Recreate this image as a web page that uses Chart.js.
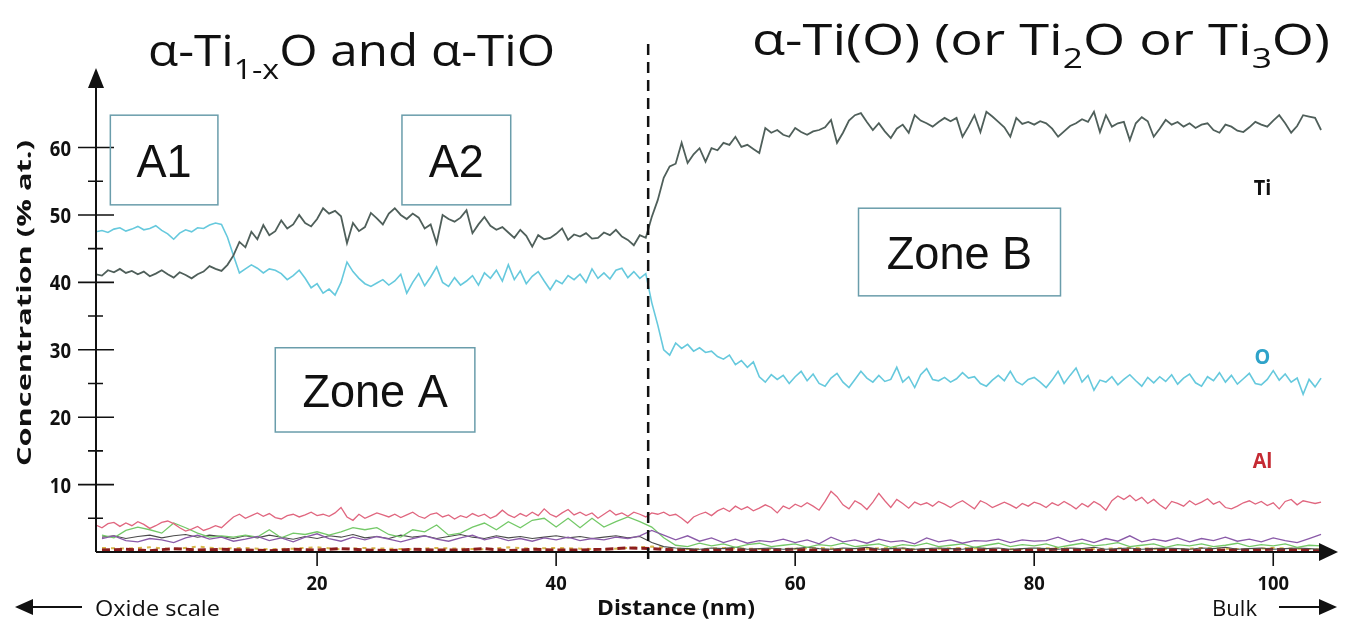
<!DOCTYPE html>
<html>
<head>
<meta charset="utf-8">
<script src="https://cdn.jsdelivr.net/npm/chart.js@4.4.1/dist/chart.umd.min.js"></script>
<style>
  html, body { margin: 0; padding: 0; background: #fff; }
  canvas { display: block; }
</style>
</head>
<body>
<canvas id="depth-profile" width="1348" height="629"></canvas>
<script>
// ── Data (% at. vs distance in nm) ───────────────────────────────────

// fine series: 1.5 → 104 nm every 0.5 nm
const FINE_START = 1.5, FINE_STEP = 0.5;
// minor series: 2 → 104 nm every 1 nm
const COARSE_START = 2, COARSE_STEP = 1;
// baseline traces: 2 → 104 nm every 2 nm
const BASE_START = 2, BASE_STEP = 2;

const tiValues = [
  41.2, 41.0, 41.8, 41.5, 42.0, 41.4, 41.7, 41.2, 41.6, 40.9,
  41.3, 41.8, 41.2, 40.7, 41.5, 41.1, 40.6, 41.2, 41.6, 42.4,
  42.0, 41.7, 42.6, 44.0, 46.0, 45.2, 47.5, 46.4, 48.5, 47.0,
  47.6, 49.2, 48.0, 48.6, 50.0, 48.8, 48.3, 49.4, 51.0, 50.2,
  50.6, 49.8, 45.8, 48.8, 47.6, 48.2, 50.3, 49.5, 48.6, 50.2,
  51.0, 50.0, 49.4, 50.2, 49.6, 48.0, 48.6, 45.8, 50.0, 49.4,
  49.0, 49.6, 50.7, 47.3, 48.6, 49.7, 48.4, 47.8, 48.2, 47.4,
  46.6, 47.8, 46.9, 45.3, 47.0, 46.4, 46.6, 47.2, 48.0, 46.3,
  47.1, 46.8, 47.3, 46.5, 46.6, 47.4, 47.0, 47.8, 46.8, 46.3,
  45.5, 47.0, 46.6, 49.7, 52.2, 55.5, 57.2, 57.6, 60.7, 57.7,
  59.0, 59.9, 57.9, 59.9, 59.6, 60.7, 60.4, 61.6, 60.1, 60.4,
  59.8, 59.2, 62.9, 62.2, 62.6, 61.9, 61.6, 62.9, 62.3, 61.9,
  62.4, 62.6, 63.0, 64.1, 60.7, 62.2, 64.0, 64.8, 65.1, 63.8,
  62.6, 63.6, 62.4, 61.4, 62.8, 63.4, 62.2, 64.8, 64.0, 63.6,
  63.1, 63.8, 64.4, 63.9, 64.4, 61.6, 63.1, 64.8, 62.3, 65.3,
  64.6, 63.8, 63.0, 61.6, 64.4, 63.5, 63.8, 63.4, 63.9, 63.6,
  62.8, 61.6, 62.4, 63.2, 63.6, 64.2, 63.8, 65.3, 62.3, 64.8,
  63.1, 63.6, 63.8, 61.1, 63.6, 64.5, 63.9, 61.6, 62.8, 64.1,
  63.4, 63.8, 63.1, 63.6, 62.9, 63.4, 63.6, 62.6, 62.2, 63.4,
  63.1, 62.5, 62.3, 63.0, 63.8, 63.4, 63.1, 64.0, 64.8, 63.6,
  62.2, 63.2, 64.8, 64.6, 64.4, 62.6,
];

const oValues = [
  47.5, 47.7, 47.4, 47.9, 48.1, 47.6, 47.9, 48.3, 47.8, 48.0,
  48.4, 47.7, 47.2, 46.4, 47.3, 47.8, 47.5, 48.1, 48.0, 48.5,
  48.8, 48.6, 46.7, 44.0, 41.4, 42.0, 42.6, 42.1, 41.4, 42.0,
  41.8, 41.3, 40.4, 41.0, 41.8, 40.6, 39.2, 39.8, 38.4, 39.0,
  38.1, 40.0, 43.0, 41.6, 40.6, 39.8, 39.4, 39.9, 40.4, 39.6,
  40.2, 41.2, 38.4, 40.0, 41.3, 39.5, 40.8, 42.3, 40.0, 39.4,
  40.7, 39.6, 40.2, 41.0, 39.6, 41.4, 40.6, 41.8, 40.2, 42.6,
  40.4, 41.7, 39.8, 40.9, 41.6, 40.2, 38.9, 40.3, 39.8, 41.0,
  40.4, 41.2, 40.0, 42.0, 40.6, 41.4, 40.5, 41.8, 42.1, 40.7,
  41.6, 40.6, 41.3, 37.0, 33.7, 30.0, 29.2, 31.0, 30.2, 30.8,
  29.8, 30.3, 29.6, 29.8, 29.0, 28.6, 29.2, 27.8, 28.4, 27.4,
  28.2, 26.0, 25.2, 26.3, 25.6, 26.2, 25.0, 26.0, 26.8, 25.4,
  26.4, 25.0, 24.6, 25.8, 26.5, 25.2, 24.4, 25.6, 26.8, 25.8,
  25.2, 26.2, 25.3, 25.6, 27.4, 25.2, 26.0, 24.4, 26.3, 27.2,
  25.6, 25.4, 25.9, 25.2, 25.7, 26.6, 25.8, 26.0, 25.0, 24.6,
  25.5, 26.2, 25.4, 26.8, 25.3, 24.8, 25.6, 25.9, 25.2, 24.4,
  25.5, 26.8, 25.0, 26.2, 27.3, 25.2, 26.2, 24.0, 25.5, 25.2,
  26.0, 24.8, 25.6, 26.3, 25.4, 24.6, 25.9, 25.1, 26.0, 25.3,
  26.3, 24.9, 25.8, 26.4, 25.1, 24.6, 26.0, 25.4, 26.6, 25.2,
  26.2, 24.9, 25.7, 26.5, 25.0, 24.8, 25.6, 26.9, 25.5, 26.4,
  25.2, 25.8, 23.4, 25.6, 24.5, 25.8,
];

const alValues = [
  4.0, 3.6, 4.2, 4.4, 3.8, 4.3, 3.9, 4.5, 4.1, 3.5,
  3.9, 4.4, 4.6, 4.2, 3.6, 3.1, 3.4, 3.8, 3.2, 3.5,
  3.9, 3.6, 4.4, 5.2, 5.6, 5.0, 5.4, 5.8, 5.3, 5.7,
  5.1, 4.9, 5.4, 5.6, 5.2, 5.5, 5.9, 5.4, 5.6, 5.3,
  5.8, 6.6, 5.2, 4.7, 5.6, 5.0, 5.4, 5.8, 5.5, 5.2,
  5.6, 5.1, 5.5, 5.9, 5.3, 5.0, 5.6, 5.8, 5.2, 5.5,
  4.9, 5.4, 5.1, 5.7, 5.3, 5.6, 5.0, 5.4, 6.2, 5.5,
  5.1, 5.7, 5.3, 5.9, 5.4, 6.4, 5.6, 5.2, 5.8, 6.3,
  5.5, 5.9, 5.4, 5.8, 5.0, 5.6, 6.2, 5.5, 5.8, 5.3,
  5.9, 5.6, 5.2, 5.8, 5.6, 5.9, 5.4, 5.6, 5.0, 4.3,
  5.2, 5.6, 5.9, 5.4, 6.1, 6.5, 6.0, 6.8, 6.3, 6.7,
  6.1, 6.5, 7.0, 6.6, 5.8, 6.8, 6.4, 7.1, 6.7, 7.3,
  6.8, 6.2, 7.5, 9.0, 8.2, 7.0, 6.4, 7.6, 7.1, 6.3,
  7.4, 8.7, 7.6, 6.6, 7.8, 7.2, 6.5, 7.4, 7.0, 7.3,
  6.8, 7.5, 7.1, 6.6, 7.2, 7.6, 7.0, 6.4, 7.6, 7.2,
  6.6, 7.0, 7.4, 7.0, 6.5, 7.2, 6.8, 7.4, 7.1, 6.6,
  7.3, 6.9, 7.5, 7.0, 6.4, 7.2, 6.7, 7.5, 7.0, 6.2,
  7.6, 8.3, 7.8, 8.4, 7.6, 8.1, 7.2, 7.8, 7.0, 6.4,
  7.5, 7.2, 6.8, 7.6, 7.0, 7.4, 7.9, 7.1, 7.5, 6.6,
  6.4, 6.8, 7.3, 7.6, 7.1, 7.5, 6.9, 7.3, 6.4, 7.5,
  7.8, 7.0, 7.6, 7.4, 7.2, 7.4,
];

const greenValues = [
  2.5, 2.1, 3.2, 3.7, 3.3, 2.8, 4.3, 3.6, 2.8, 2.2,
  2.4, 2.2, 2.5, 2.2, 3.3, 2.1, 2.8, 2.6, 3.0, 2.5,
  3.0, 3.6, 3.3, 3.6, 2.6, 2.2, 3.3, 3.0, 4.0, 2.5,
  2.8, 3.7, 4.3, 3.3, 4.5, 3.6, 4.7, 5.0, 3.7, 5.0,
  3.6, 5.0, 3.7, 4.5, 5.2, 4.5, 3.7, 2.1, 1.0, 0.8,
  1.3, 0.9, 1.2, 0.7, 1.1, 1.3, 0.8, 1.0, 1.2, 0.7,
  1.1, 0.9, 1.3, 0.8, 1.0, 1.2, 0.7, 1.1, 0.9, 1.3,
  0.8, 1.0, 1.2, 0.7, 1.0, 1.3, 0.8, 1.1, 0.9, 1.2,
  0.7, 1.0, 1.3, 0.9, 1.1, 1.4, 0.8, 1.0, 1.2, 0.7,
  1.1, 0.9, 1.2, 0.8, 1.0, 1.3, 0.8, 1.1, 0.9, 1.2,
  0.7, 1.0, 0.9,
];

const purpleValues = [
  2.0, 2.4, 1.7, 1.5, 2.0, 1.8, 1.4, 2.1, 2.5, 1.9,
  2.2, 1.6, 1.9, 2.3, 1.7, 2.1, 1.5, 2.2, 2.7, 2.0,
  1.6, 2.2, 1.8, 2.3, 1.9, 1.5, 2.0, 2.4, 1.9, 1.6,
  2.1, 2.5, 1.8, 2.2, 1.7, 2.0, 1.6, 2.1, 1.8, 2.2,
  1.7, 2.0, 1.8, 2.2, 2.0, 2.4, 3.2, 2.5, 1.8, 2.4,
  1.6, 2.1, 1.4, 1.9, 1.3, 1.7, 1.5, 1.9, 1.4, 1.8,
  1.2, 2.2, 1.5, 1.8, 1.3, 1.9, 1.5, 1.7, 1.2, 2.1,
  1.5, 1.8, 1.3, 1.7, 1.6, 1.9, 1.4, 1.8, 1.6, 1.7,
  2.2, 1.5, 1.9, 1.4, 2.0, 1.6, 2.4, 1.5, 1.9, 1.6,
  2.1, 1.5, 2.0, 1.7, 2.2, 1.6, 1.9, 1.5, 2.1, 1.7,
  1.4, 2.0, 2.6,
];

const grayValues = [
  2.2, 2.4, 2.0, 2.3, 2.5, 2.1, 2.4, 2.6, 2.2, 2.5,
  2.3, 2.0, 2.4, 2.1, 2.5, 2.2, 1.9, 2.3, 2.0, 2.4,
  2.2, 2.6, 2.1, 2.3, 2.0, 2.5, 2.2, 2.4, 2.0, 2.3,
  2.6, 2.2, 2.0, 2.4, 2.1, 2.3, 2.0, 2.2, 2.4, 2.1,
  2.3, 2.0, 2.2, 2.4, 2.1, 2.3, 1.4, 0.8, 0.6, 0.5,
  0.4, 0.6, 0.5, 0.7, 0.4, 0.5, 0.6, 0.4, 0.5, 0.7,
  0.5, 0.4, 0.6, 0.5, 0.7, 0.4, 0.5, 0.6, 0.4, 0.5,
  0.6, 0.5, 0.4, 0.7, 0.5, 0.6, 0.4, 0.5, 0.6, 0.5,
  0.4, 0.6, 0.5, 0.7, 0.4, 0.5, 0.6, 0.4, 0.5, 0.6,
  0.5, 0.4, 0.6, 0.5, 0.7, 0.4, 0.5, 0.6, 0.4, 0.5,
  0.6, 0.5, 0.4,
];

const darkRedValues = [
  0.3, 0.4, 0.2, 0.5, 0.3, 0.4, 0.3, 0.2, 0.4, 0.3,
  0.5, 0.3, 0.2, 0.4, 0.3, 0.3, 0.5, 0.2, 0.4, 0.3,
  0.3, 0.4, 0.6, 0.5, 0.3, 0.2, 0.4, 0.3, 0.3, 0.4,
  0.2, 0.3, 0.4, 0.3, 0.2, 0.3, 0.4, 0.3, 0.2, 0.3,
  0.4, 0.3, 0.2, 0.3, 0.4, 0.3, 0.2, 0.3, 0.3, 0.4,
  0.3, 0.2,
];

const yellowValues = [
  0.6, 0.5, 0.7, 0.4, 0.8, 0.5, 0.6, 0.4, 0.5, 0.7,
  0.4, 0.6, 0.5, 0.4, 0.6, 0.5, 0.4, 0.7, 0.5, 0.6,
  0.5, 0.4, 0.6, 0.8, 0.5, 0.4, 0.6, 0.5, 0.4, 0.5,
  0.6, 0.4, 0.5, 0.6, 0.4, 0.5, 0.6, 0.5, 0.4, 0.5,
  0.6, 0.4, 0.5, 0.6, 0.5, 0.4, 0.6, 0.5, 0.4, 0.6,
  0.5, 0.4,
];

const X_TICKS = [20, 40, 60, 80, 100];
const Y_TICKS = [10, 20, 30, 40, 50, 60];
const Y_MINOR = [5, 15, 25, 35, 45, 55];
const BOUNDARY_NM = 47.7;

// annotation boxes in data units [x0, x1, yTop, yBottom, label]
const BOXES = [
  [2.7, 11.7, 64.8, 51.5, 'A1'],
  [27.1, 36.2, 64.8, 51.5, 'A2'],
  [16.5, 33.2, 30.3, 17.8, 'Zone A'],
  [65.3, 82.2, 51.0, 38.0, 'Zone B'],
];
const SERIES_LABELS = [
  ['Ti', 54.2, '#111111'],
  ['O', 29.1, '#2fa3c9'],
  ['Al', 13.6, '#c52a33'],
];

// ── Helpers ──────────────────────────────────────────────────────────

const toPoints = (values, start, step) => values.map((v, i) => ({ x: start + i * step, y: v }));

const SANS  = "'Open Sans', 'Liberation Sans', sans-serif";
const ARIAL = "'Liberation Sans', Arial, sans-serif";

// draw text segments ([text, isSub]) squeezed to a width or by a factor
function drawText(ctx, segs, x, baseline, o) {
    const fontFor = sub => `${o.weight || 'normal'} ${sub ? Math.round(o.size * 0.64) : o.size}px ${o.family}`;
    let total = 0;
    for (const [t, sub] of segs) { ctx.font = fontFor(sub); total += ctx.measureText(t).width; }
    const sx = o.width ? o.width / total : (o.sx || 1);
    const w  = total * sx;
    const start = o.align === 'center' ? x - w / 2 : o.align === 'right' ? x - w : x;
    ctx.save();
    ctx.translate(start, baseline);
    ctx.scale(sx, 1);
    ctx.fillStyle = o.color || '#111';
    ctx.textAlign = 'left';
    ctx.textBaseline = 'alphabetic';
    let cx = 0;
    for (const [t, sub] of segs) {
        ctx.font = fontFor(sub);
        ctx.fillText(t, cx, sub ? o.size * 0.3 : 0);
        cx += ctx.measureText(t).width;
    }
    ctx.restore();
}

function arrowHead(ctx, tipX, tipY, dir, len, half) {
    ctx.beginPath();
    if (dir === 'up') {
        ctx.moveTo(tipX, tipY); ctx.lineTo(tipX - half, tipY + len); ctx.lineTo(tipX + half, tipY + len);
    } else if (dir === 'right') {
        ctx.moveTo(tipX, tipY); ctx.lineTo(tipX - len, tipY - half); ctx.lineTo(tipX - len, tipY + half);
    } else {
        ctx.moveTo(tipX, tipY); ctx.lineTo(tipX + len, tipY - half); ctx.lineTo(tipX + len, tipY + half);
    }
    ctx.closePath();
    ctx.fill();
}

// ── Decorations: axes, ticks, boxes, titles ──────────────────────────

const decor = {
    id: 'decor',
    afterDraw(chart) {
        const { ctx, chartArea: area, scales: { x, y } } = chart;
        const y0 = y.getPixelForValue(0);
        const x0 = area.left;
        ctx.save();
        ctx.strokeStyle = '#111';
        ctx.fillStyle = '#111';

        // boundary dashed line
        const bx = x.getPixelForValue(BOUNDARY_NM);
        ctx.save();
        ctx.lineWidth = 2.5;
        ctx.setLineDash([11, 7]);
        ctx.beginPath();
        ctx.moveTo(bx, 44);
        ctx.lineTo(bx, y0 + 14);
        ctx.stroke();
        ctx.restore();

        // axes
        ctx.lineWidth = 2;
        ctx.beginPath();
        ctx.moveTo(x0, y0); ctx.lineTo(x0, area.top + 12);
        ctx.moveTo(x0, y0); ctx.lineTo(area.right - 10, y0);
        ctx.stroke();
        arrowHead(ctx, x0, area.top, 'up', 20, 8);
        arrowHead(ctx, area.right + 5, y0, 'right', 19, 9);

        // y ticks
        ctx.lineWidth = 1.6;
        ctx.beginPath();
        Y_TICKS.forEach(v => { const p = y.getPixelForValue(v); ctx.moveTo(x0 - 18, p); ctx.lineTo(x0 + 18, p); });
        Y_MINOR.forEach(v => { const p = y.getPixelForValue(v); ctx.moveTo(x0 - 8, p); ctx.lineTo(x0 + 7, p); });
        // x ticks
        X_TICKS.forEach(v => { const p = x.getPixelForValue(v); ctx.moveTo(p, y0); ctx.lineTo(p, y0 + 14); });
        ctx.stroke();

        Y_TICKS.forEach(v => drawText(ctx, [[String(v)]], 71, y.getPixelForValue(v) + 8,
            { size: 21, weight: 'bold', family: SANS, sx: 0.88, align: 'right' }));
        X_TICKS.forEach(v => drawText(ctx, [[String(v)]], x.getPixelForValue(v), y0 + 38,
            { size: 20, weight: 'bold', family: SANS, sx: 0.92, align: 'center' }));

        // axis titles
        ctx.save();
        ctx.translate(31, 303);
        ctx.rotate(-Math.PI / 2);
        drawText(ctx, [['Concentration (% at.)']], 0, 0,
            { size: 19, weight: 'bold', family: SANS, width: 326, align: 'center' });
        ctx.restore();
        drawText(ctx, [['Distance (nm)']], 676, 615,
            { size: 21, weight: 'bold', family: SANS, width: 158, align: 'center' });
        drawText(ctx, [['Oxide scale']], 95, 616, { size: 22, family: SANS, width: 125 });
        drawText(ctx, [['Bulk']], 1212, 616, { size: 22, family: SANS, width: 45 });

        ctx.lineWidth = 2;
        ctx.beginPath();
        ctx.moveTo(30, 607); ctx.lineTo(82, 607);
        ctx.moveTo(1279, 607); ctx.lineTo(1322, 607);
        ctx.stroke();
        arrowHead(ctx, 15, 607, 'left', 18, 8);
        arrowHead(ctx, 1337, 607, 'right', 18, 8);

        // phase titles
        drawText(ctx, [['α-Ti'], ['1-x', true], ['O and α-TiO']], 148, 66,
            { size: 43, family: SANS, width: 407 });
        drawText(ctx, [['α-Ti(O) (or Ti'], ['2', true], ['O or Ti'], ['3', true], ['O)']], 752, 55,
            { size: 43, family: SANS, width: 578 });

        // zone boxes
        ctx.lineWidth = 1.5;
        ctx.strokeStyle = '#6a9dab';
        BOXES.forEach(([a, b, t, bt, label]) => {
            const l = x.getPixelForValue(a), r = x.getPixelForValue(b);
            const top = y.getPixelForValue(t), bot = y.getPixelForValue(bt);
            ctx.strokeRect(l, top, r - l, bot - top);
            drawText(ctx, [[label]], (l + r) / 2, (top + bot) / 2 + 17,
                { size: 46, family: ARIAL, sx: 0.98, align: 'center', color: '#111' });
        });

        // element labels
        SERIES_LABELS.forEach(([t, v, c]) => drawText(ctx, [[t]], x.getPixelForValue(99.1), y.getPixelForValue(v) + 8,
            { size: 22, weight: 'bold', family: SANS, sx: 0.9, align: 'center', color: c }));

        ctx.restore();
    },
};

// ── Chart ────────────────────────────────────────────────────────────

const line = (data, color, width, extra = {}) => ({
    data,
    borderColor: color,
    borderWidth: width,
    pointRadius: 0,
    tension: 0,
    fill: false,
    ...extra,
});

new Chart(document.getElementById('depth-profile'), {
    type: 'line',
    data: {
        datasets: [
            line(toPoints(tiValues, FINE_START, FINE_STEP), '#4f5f5a', 1.8, { label: 'Ti', order: 1 }),
            line(toPoints(oValues, FINE_START, FINE_STEP), '#66c9dd', 1.6, { label: 'O', order: 2 }),
            line(toPoints(alValues, FINE_START, FINE_STEP), '#e0667f', 1.3, { label: 'Al', order: 3 }),
            line(toPoints(grayValues, COARSE_START, COARSE_STEP), '#4a4a4a', 1.1, { order: 5 }),
            line(toPoints(purpleValues, COARSE_START, COARSE_STEP), '#8a5aa8', 1.3, { order: 4 }),
            line(toPoints(greenValues, COARSE_START, COARSE_STEP), '#74c968', 1.3, { order: 4 }),
            line(toPoints(yellowValues, BASE_START, BASE_STEP), '#d8b84c', 2, { order: 7, borderDash: [4, 5] }),
            line(toPoints(darkRedValues, BASE_START, BASE_STEP), '#8c1c1c', 3, { order: 6, borderDash: [8, 4] }),
        ],
    },
    options: {
        responsive: false,
        animation: false,
        layout: { padding: { left: 96, right: 15, top: 68, bottom: 77 } },
        plugins: { legend: { display: false }, tooltip: { enabled: false } },
        scales: {
            x: { type: 'linear', min: 1.5, max: 105, display: false },
            y: { min: 0, max: 71.8, display: false },
        },
    },
    plugins: [decor],
});
</script>
</body>
</html>
